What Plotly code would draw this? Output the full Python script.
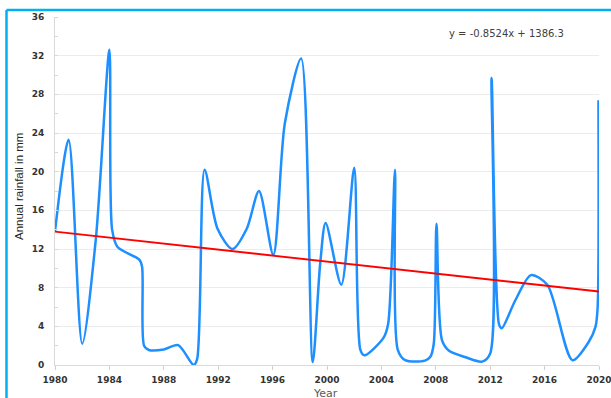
import plotly.graph_objects as go

# Annual rainfall series (year positions, rainfall in mm)
years = [1980.0, 1981.0, 1982.0, 1983.0, 1984.0, 1984.2, 1984.6, 1986.2, 1986.4,
         1986.55, 1986.9, 1988.0, 1989.05, 1990.2, 1990.45, 1991.0, 1991.95,
         1993.05, 1994.1, 1995.0, 1996.05, 1996.9, 1998.1, 1998.95, 1999.5,
         1999.9, 2001.05, 2002.0, 2002.45, 2002.75, 2004.15, 2004.5, 2005.0,
         2005.2, 2005.75, 2007.2, 2007.6, 2007.85, 2008.05, 2008.45, 2008.95,
         2010.2, 2011.4, 2012.0, 2012.1, 2012.65, 2012.85, 2013.85, 2015.0,
         2016.2, 2018.05, 2019.25, 2019.75, 2019.9, 2019.96]
rainfall = [13.8, 23.3, 2.2, 13.0, 32.6, 14.0, 12.2, 10.9, 10.2,
            2.0, 1.55, 1.6, 2.05, 0.0, 0.6, 20.2, 14.1,
            12.0, 14.1, 18.0, 11.4, 25.0, 31.7, 0.3, 10.5,
            14.7, 8.3, 20.4, 1.6, 1.0, 2.8, 4.3, 20.2,
            1.6, 0.5, 0.45, 0.85, 2.2, 14.6, 2.6, 1.5,
            0.8, 0.35, 1.2, 29.7, 4.2, 3.8, 6.7, 9.3,
            8.3, 0.5, 2.4, 4.0, 6.0, 27.4]

# Linear trend line end points
trend_years = [1980, 2020]
trend_values = [13.8, 7.6]
trend_label = "y = -0.8524x + 1386.3"

y_ticks = list(range(0, 37, 4))
x_ticks = list(range(1980, 2021, 4))

W, H = 611, 398
L, R, T, B = 55, 12, 17, 33
pw, ph = W - L - R, H - T - B


def px_to_paper_x(px):
    return (px - L) / pw


def px_to_paper_y(py):
    return (H - B - py) / ph


fig = go.Figure()
fig.add_trace(go.Scatter(
    x=years, y=rainfall, mode="lines",
    line=dict(color="#1E8FFF", width=2.5, shape="spline", smoothing=0.8),
    showlegend=False, hoverinfo="x+y"))
fig.add_trace(go.Scatter(
    x=trend_years, y=trend_values, mode="lines",
    line=dict(color="#FF0000", width=1.8),
    showlegend=False, hoverinfo="skip"))

tick_font = dict(family="DejaVu Sans", size=9, color="#333333", weight="bold")

fig.update_layout(
    width=W, height=H,
    margin=dict(l=L, r=R, t=T, b=B, pad=0, autoexpand=False),
    paper_bgcolor="white", plot_bgcolor="white",
    xaxis=dict(range=[1980, 2020], tickvals=x_ticks, ticktext=[str(v) for v in x_ticks],
               showgrid=False, zeroline=False, showline=True, linecolor="#d9d9d9",
               linewidth=1, ticks="outside", ticklen=4, tickcolor="#d0d0d0",
               ticklabelstandoff=2, ticklabeloverflow="allow", automargin=False,
               tickfont=tick_font),
    yaxis=dict(range=[0, 36], tickvals=y_ticks, ticktext=[str(v) for v in y_ticks],
               showgrid=True, gridcolor="#ececec", gridwidth=1, zeroline=False,
               showline=True, linecolor="#d9d9d9", linewidth=1, ticks="",
               ticklabelstandoff=8, tickfont=tick_font, automargin=False,
               minor=dict(dtick=2, ticks="inside", ticklen=3, tickcolor="#d9d9d9",
                          showgrid=False)),
    shapes=[
        dict(type="line", xref="paper", yref="paper",
             x0=px_to_paper_x(6.5), x1=px_to_paper_x(6.5),
             y0=px_to_paper_y(H + 20), y1=px_to_paper_y(10),
             line=dict(color="#00B0F0", width=2.5)),
        dict(type="line", xref="paper", yref="paper",
             x0=px_to_paper_x(6.5), x1=px_to_paper_x(W + 20),
             y0=px_to_paper_y(10), y1=px_to_paper_y(10),
             line=dict(color="#00B0F0", width=2.5)),
    ],
    annotations=[
        dict(text=trend_label, x=px_to_paper_x(506), y=px_to_paper_y(33),
             xref="paper", yref="paper", xanchor="center", yanchor="middle",
             showarrow=False, font=dict(family="DejaVu Sans", size=10, color="#404040")),
        dict(text="Annual rainfall in mm", textangle=-90,
             x=px_to_paper_x(19), y=px_to_paper_y(187), xref="paper", yref="paper",
             xanchor="center", yanchor="middle", showarrow=False,
             font=dict(family="Liberation Sans Narrow, Liberation Sans", size=11.5,
                       color="#262626")),
        dict(text="Year", x=px_to_paper_x(325), y=px_to_paper_y(393),
             xref="paper", yref="paper", xanchor="center", yanchor="middle",
             showarrow=False,
             font=dict(family="DejaVu Sans", size=11, color="#595959")),
    ],
)

fig.write_html("out.html")
